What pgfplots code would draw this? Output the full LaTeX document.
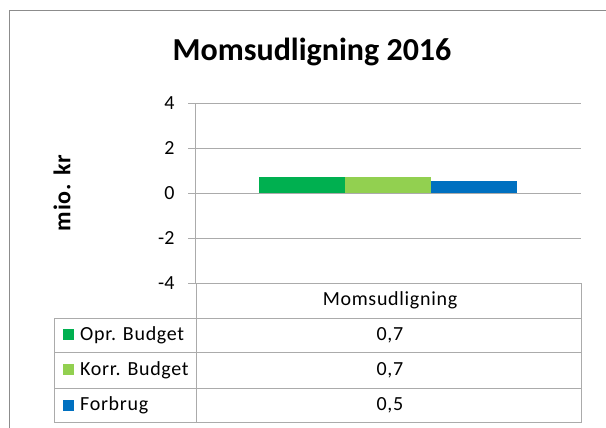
\documentclass[border=0pt]{standalone}
\usepackage{pgfplots}
\pgfplotsset{compat=1.18}
\usepackage{fontspec}
\setmainfont{Carlito}
\newfontfamily\calsp[LetterSpace=3.5]{Carlito}
\definecolor{oprg}{HTML}{00B050}
\definecolor{korrg}{HTML}{92D050}
\definecolor{forb}{HTML}{0070C0}
\definecolor{gridc}{HTML}{ABABAB}
\definecolor{framec}{HTML}{8C8C8C}
\begin{document}
\begin{tikzpicture}[x=1pt,y=1pt]
\path[use as bounding box] (0,0) rectangle (606,428);
\draw[framec, line width=1pt] (9,0) -- (9,417) -- (606,417);
\node[font=\fontsize{32}{36}\selectfont\bfseries] at (312,376) {Momsudligning 2016};
\node[font=\calsp\fontsize{24}{28}\selectfont\bfseries, rotate=90] at (62,235) {mio. kr};
\begin{axis}[at={(195pt,145pt)}, anchor=south west, scale only axis,
  width=386pt, height=180pt,
  xmin=-0.5, xmax=0.5, ymin=-4, ymax=4,
  ytick={-4,-2,0,2,4}, yticklabels={-4,-2,0,2,4},
  xtick=\empty,
  axis lines*=left,
  axis line style={gridc, line width=0.8pt},
  ymajorgrids, grid style={gridc, line width=0.8pt},
  major tick length=7pt, tick align=outside,
  ytick style={gridc, line width=0.8pt},
  yticklabel style={font=\fontsize{20}{24}\selectfont, xshift=-10pt},
  ybar, bar width=86pt, clip=false]
\addplot[fill=oprg, draw=none, bar shift=-86pt] coordinates {(0,0.7)};
\addplot[fill=korrg, draw=none, bar shift=0pt] coordinates {(0,0.7)};
\addplot[fill=forb, draw=none, bar shift=86pt] coordinates {(0,0.55)};
\end{axis}
% data table
\draw[gridc, line width=0.8pt] (196,145) -- (581,145) -- (581,6) -- (54,6) -- (54,110) -- (581,110);
\draw[gridc, line width=0.8pt] (54,76) -- (581,76);
\draw[gridc, line width=0.8pt] (54,40) -- (581,40);
\draw[gridc, line width=0.8pt] (196,145) -- (196,6);
\begin{scope}[every node/.style={font=\calsp\fontsize{20}{24}\selectfont, inner sep=0pt}]
\node at (390,128) {Momsudligning};
\node at (390,93) {0,7};
\node at (390,58) {0,7};
\node at (390,23) {0,5};
\fill[oprg] (63,88) rectangle (74,99);
\fill[korrg] (63,53) rectangle (74,64);
\fill[forb] (63,17) rectangle (74,28);
\node[anchor=west] at (80,93) {Opr. Budget};
\node[anchor=west] at (80,58) {Korr. Budget};
\node[anchor=west] at (80,23) {Forbrug};
\end{scope}
\end{tikzpicture}
\end{document}
